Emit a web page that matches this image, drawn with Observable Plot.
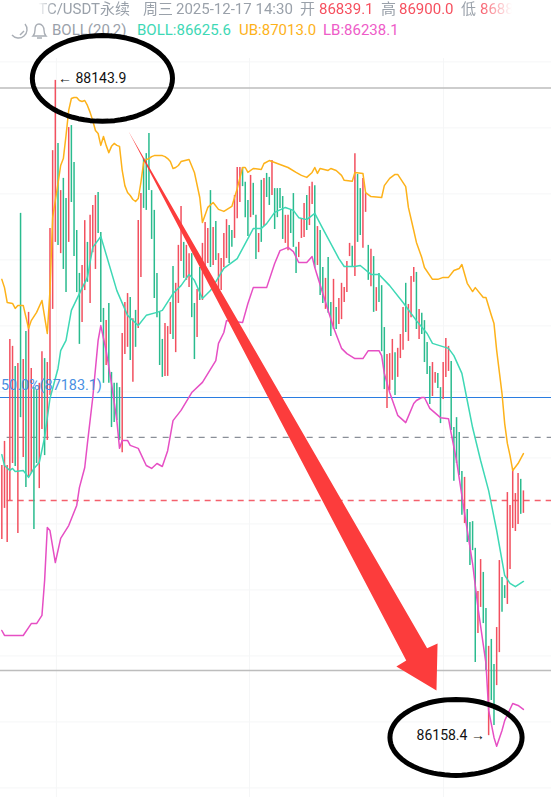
<!DOCTYPE html>
<html><head><meta charset="utf-8">
<script src="https://cdn.jsdelivr.net/npm/d3@7"></script>
<script src="https://cdn.jsdelivr.net/npm/@observablehq/plot@0.6"></script>
<style>
html,body{margin:0;padding:0;background:#fff;width:551px;height:797px;overflow:hidden}
#wrap{position:relative;width:551px;height:797px}
#chart svg{position:absolute;left:0;top:0;z-index:2;background:transparent}
.hd{position:absolute;z-index:1;font-family:Roboto,"Noto Sans CJK SC",sans-serif;font-size:15px;white-space:nowrap;line-height:18px}
#l1{left:0;top:0;width:551px;height:18px;color:#9aa1aa;
 -webkit-mask-image:linear-gradient(90deg,transparent 38px,#000 54px,#000 478px,transparent 512px);mask-image:linear-gradient(90deg,transparent 38px,#000 54px,#000 478px,transparent 512px)}
#l1 span{position:absolute;top:0}
.r{color:#f6505f}
</style></head><body>
<div id="wrap">
<div id="l1" class="hd">
<span style="left:29px">BTC/USDT永续</span><span style="left:143px">周三</span><span style="left:176px">2025-12-17 14:30</span>
<span style="left:300px">开</span><span class="r" style="left:319px">86839.1</span>
<span style="left:381px">高</span><span class="r" style="left:399px">86900.0</span>
<span style="left:461px">低</span><span class="r" style="left:480px">86884.0</span>
</div>
<div class="hd" style="left:52px;top:21px;color:#9aa1aa">BOLL(20,2)</div>
<div class="hd" style="left:137px;top:21px;color:#3ed8b5">BOLL:86625.6</div>
<div class="hd" style="left:239px;top:21px;color:#fdb21a">UB:87013.0</div>
<div class="hd" style="left:323px;top:21px;color:#ee5cc8">LB:86238.1</div>
<svg style="position:absolute;left:8px;top:20px;z-index:1" width="44" height="24" fill="none" stroke="#a9aeb5" stroke-width="1.4">
<path d="M17 4 A8 8 0 1 1 4 15"/><path d="M16 11 L12 15"/>
<path d="M31 4 c-3 0 -4 3 -4 6 c0 4 -1 5 -2 6 h13 c-1 -1 -2 -2 -2 -6 c0 -3 -2 -6 -5 -6 z M29 18 h5"/>
</svg>
<div id="chart"></div>
</div>
<script>
const barDir = ("RRRRRGRGRG"+"RRGGRRGRRR"+"RGRGGRGGGG"+"RRGRRRGGGR"+"GGGGGRRRGR"+"GRRGGGGGGG"+"GRRRGRRRGR"+"RGGRGRRRGR"+"GRRRRGGRRR"+"GGGRGGRGRG"+
 "GRGGGGRRGG"+"GRRRGRRGRG"+"GRGGRGRRRR"+"RGRGGRRGRG"+"RGGGRRRGRR"+"RGRRRGRGGG"+"GRRGGRRRGG"+"GGGRGGGGRR"+"GGRGGRRGGR"+"RRRRGR").split("");
const barHigh = [
86977,87050,86977,87359,87338,87277,87286,87741,87298,87383,
87441,87271,87213,87204,87226,87322,87301,87289,87695,87931,
88143.9,87953,87810,87847,87786,88001,88007,87895,87689,87559,
87583,87719,87653,87735,87765,87795,87804,87683,87453,87416,
87468,87259,87226,87226,87213,87377,87471,87498,87486,87422,
87447,87719,87801,87907,87922,87983,87810,87750,87559,87441,
87359,87407,87398,87471,87580,87529,87644,87762,87653,87644,
87619,87619,87468,87510,87577,87650,87713,87695,87810,87698,
87716,87619,87604,87680,87722,87704,87689,87795,87880,87880,
87880,87835,87780,87856,87832,87735,87680,87841,87847,87862,
87850,87901,87816,87816,87816,87792,87735,87735,87750,87801,
87638,87653,87725,87771,87795,87822,87835,87825,87701,87689,
87577,87544,87607,87471,87541,87456,87483,87529,87516,87595,
87650,87641,87922,87859,87816,87847,87801,87644,87632,87610,
87516,87559,87522,87395,87313,87316,87359,87319,87332,87374,
87456,87529,87465,87550,87577,87562,87450,87438,87416,87350,
87277,87289,87259,87256,87213,87289,87362,87338,87292,87092,
87122,87077,86959,86941,86844,86804,86807,86726,86595,86692,
86653,86544,86429,86450,86374,86486,86689,86638,86613,86895,
86856,86965,86892,86953,86935,86900];
const barLow = [
86753,86847,86744,86871,86983,86974,86771,87122,87001,86910,
86941,86953,86783,86983,86907,87086,87007,87053,87189,87450,
87653,87644,87619,87571,87501,87653,87774,87610,87501,87344,
87410,87507,87532,87468,87622,87571,87680,87410,87226,87280,
87226,87092,87107,87113,87053,87016,87313,87335,87295,87229,
87335,87392,87547,87756,87750,87810,87662,87483,87425,87280,
87244,87247,87247,87374,87359,87319,87468,87595,87544,87538,
87516,87425,87298,87365,87477,87477,87559,87589,87577,87583,
87598,87507,87507,87577,87604,87589,87638,87665,87725,87774,
87822,87728,87671,87728,87735,87601,87622,87653,87701,87789,
87765,87795,87692,87728,87756,87662,87650,87628,87680,87638,
87559,87607,87665,87668,87689,87704,87768,87574,87583,87492,
87468,87450,87438,87368,87389,87389,87404,87419,87471,87501,
87610,87580,87550,87653,87674,87635,87744,87538,87519,87441,
87444,87471,87322,87207,87150,87204,87235,87189,87244,87301,
87326,87380,87353,87425,87532,87389,87359,87374,87289,87253,
87162,87186,87226,87210,87104,87177,87244,87262,87083,86929,
86983,86947,86826,86801,86744,86674,86719,86380,86468,86547,
86498,86356,86158.4,86265,86189,86310,86410,86532,86574,86556,
86662,86786,86777,86798,86829,86832];

const ubBar = [0,1,2,4,5,6,8,10,11,13,15,17,18,19,20,21,22,23,24,25,26,27,28,29,30,31,32,33,34,35,36,37,38,39,40,41,42,43,44,45,46,47,48,49,50,51,52,53,54,55,56,57,58,59,60,61,62,63,64,65,66,67,70,72,74,75,77,79,81,83,86,88,90,91,92,94,97,98,100,104,107,110,112,114,116,117,118,119,122,123,125,127,128,131,132,135,136,138,142,143,145,147,148,151,152,154,155,157,158,161,163,165,167,169,171,172,174,176,177,180,181,183,184,185,187,188,189,190,191,193,195];
const ubPrice = [87541,87516,87471,87468,87453,87462,87462,87392,87416,87441,87477,87377,87507,87728,87780,87832,87886,87907,87977,88053,88089,88092,88092,88083,88080,88083,88068,88047,88022,87992,87983,87947,87974,87947,87925,87944,87953,87947,87944,87871,87825,87804,87795,87783,87777,87786,87835,87895,87904,87907,87913,87916,87916,87916,87916,87913,87907,87898,87877,87880,87886,87898,87904,87865,87789,87713,87759,87774,87753,87747,87762,87816,87880,87880,87865,87877,87874,87892,87901,87889,87880,87865,87856,87850,87865,87880,87862,87877,87871,87877,87871,87856,87841,87838,87865,87862,87804,87792,87789,87825,87847,87859,87859,87822,87759,87689,87653,87607,87577,87541,87541,87547,87547,87568,87574,87586,87529,87504,87516,87486,87486,87432,87407,87326,87195,87104,87044,87007,86962,86983,87013];

const midBar = [0,1,3,4,5,8,10,12,14,16,18,21,22,24,26,29,32,34,37,38,43,47,51,54,58,60,64,67,70,72,75,78,83,88,94,97,99,102,106,109,111,114,117,120,126,128,132,134,138,141,145,150,155,159,161,167,169,172,174,176,179,182,185,188,190,192,195];
const midPrice = [87010,86977,86962,86968,86959,86962,86941,86968,86986,87062,87180,87271,87325,87356,87447,87498,87547,87638,87671,87644,87507,87432,87401,87432,87441,87447,87498,87522,87556,87538,87483,87507,87574,87604,87695,87695,87710,87744,87759,87750,87728,87722,87741,87695,87604,87580,87580,87583,87556,87556,87522,87471,87416,87377,87347,87332,87310,87256,87174,87092,86992,86901,86780,86644,86620,86610,86625.6];

const lbBar = [0,1,8,11,13,15,16,17,18,20,22,25,28,29,31,32,34,36,37,39,41,43,44,45,47,48,51,54,56,58,60,62,64,67,71,75,80,81,83,84,90,92,94,99,102,104,107,109,111,114,116,117,120,124,127,129,132,135,137,141,142,143,145,148,151,154,155,157,158,160,164,167,168,170,173,176,178,181,182,184,185,187,188,191,193,195];
const lbPrice = [86477,86462,86462,86498,86498,86523,86629,86789,86780,86683,86756,86795,86856,86910,86971,87044,87183,87356,87401,87325,87226,87113,87029,87053,87053,87038,87029,86977,86968,86983,86974,87022,87113,87144,87198,87229,87295,87347,87380,87416,87410,87468,87516,87516,87589,87628,87638,87625,87592,87592,87610,87577,87498,87395,87332,87316,87301,87301,87325,87325,87310,87256,87198,87129,87107,87165,87174,87183,87183,87150,87122,87119,87074,86992,86832,86680,86547,86377,86235,86153,86126,86174,86204,86256,86250,86238.1];

const priceLevels = d3.range(86000, 88400, 200);
const timeGrid = [20.4, 92.6, 165.1];
const fib50 = 87183.1, highLine = 88121, lowLine = 86356, lastLine = 87062, markLine = 86871;
const arrowBar = [47.4,159,162.9,162.5,147.5,151.2];
const arrowPrice = [87989,86423,86438,86295,86368,86386];
const ellipses = [{bar:37.6,price:88150,rb:26.2,rp:130},{bar:169.8,price:86153,rb:24.7,rp:115}];

const pts = (bars, prices) => bars.map((b,i)=>({bar:b,price:prices[i]}));
const ring = e => d3.range(0,365,5).map(a=>({bar:e.bar+e.rb*Math.cos(a*Math.PI/180),price:e.price+e.rp*Math.sin(a*Math.PI/180)}));
const bars = barHigh.map((h,i)=>({bar:i,high:h,low:barLow[i],dir:barDir[i]}));

const FONT = "Roboto, sans-serif";
const chart = Plot.plot({
  width:551,height:797,margin:0,
  style:{background:"transparent"},
  x:{type:"linear",domain:[-0.497,205.5],range:[0,551],axis:null},
  y:{type:"linear",domain:[88386,85971],range:[0,797],axis:null},
  marks:[
    Plot.ruleY(priceLevels,{stroke:"#f5f6f7",strokeWidth:1}),
    Plot.ruleX(timeGrid,{stroke:"#f5f6f7",strokeWidth:1,y1:88210,y2:85971}),
    Plot.ruleY([highLine,lowLine],{stroke:"#bdbdbd",strokeWidth:1.6}),
    Plot.ruleY([fib50],{stroke:"#2a7de1",strokeWidth:1.2}),
    Plot.ruleY([lastLine],{x1:2,x2:205.5,stroke:"#8a8f98",strokeWidth:1.2,strokeDasharray:"6,6"}),
    Plot.ruleY([markLine],{x1:2,x2:205.5,stroke:"#f4606c",strokeWidth:1.5,strokeDasharray:"6,5"}),
    Plot.ruleX(bars.filter(d=>d.dir==="G"),{x:"bar",y1:"low",y2:"high",stroke:"#2abb8e",strokeWidth:1.5}),
    Plot.ruleX(bars.filter(d=>d.dir==="R"),{x:"bar",y1:"low",y2:"high",stroke:"#f2505f",strokeWidth:1.5}),
    Plot.line(pts(ubBar,ubPrice),{x:"bar",y:"price",stroke:"#fdb21a",strokeWidth:1.5}),
    Plot.line(pts(midBar,midPrice),{x:"bar",y:"price",stroke:"#3ed8b5",strokeWidth:1.5}),
    Plot.line(pts(lbBar,lbPrice),{x:"bar",y:"price",stroke:"#e64fc4",strokeWidth:1.5}),
    Plot.text(["50.0%(87183.1)"],{x:-0.3,y:87219,text:d=>d,textAnchor:"start",fill:"#4a90e2",fontSize:14.4,fontFamily:FONT}),
    Plot.text(["← 88143.9"],{x:21,y:88150,text:d=>d,textAnchor:"start",fill:"#111",fontSize:14,fontFamily:FONT}),
    Plot.text(["86158.4 →"],{x:180.6,y:86158.4,text:d=>d,textAnchor:"end",fill:"#111",fontSize:14,fontFamily:FONT}),
    Plot.line(pts(arrowBar,arrowPrice),{x:"bar",y:"price",fill:"#fc3c3c",stroke:null}),
    ...ellipses.map(e=>Plot.line(ring(e),{x:"bar",y:"price",stroke:"#000",strokeWidth:5}))
  ]
});
document.getElementById("chart").appendChild(chart);
</script>
</body></html>
